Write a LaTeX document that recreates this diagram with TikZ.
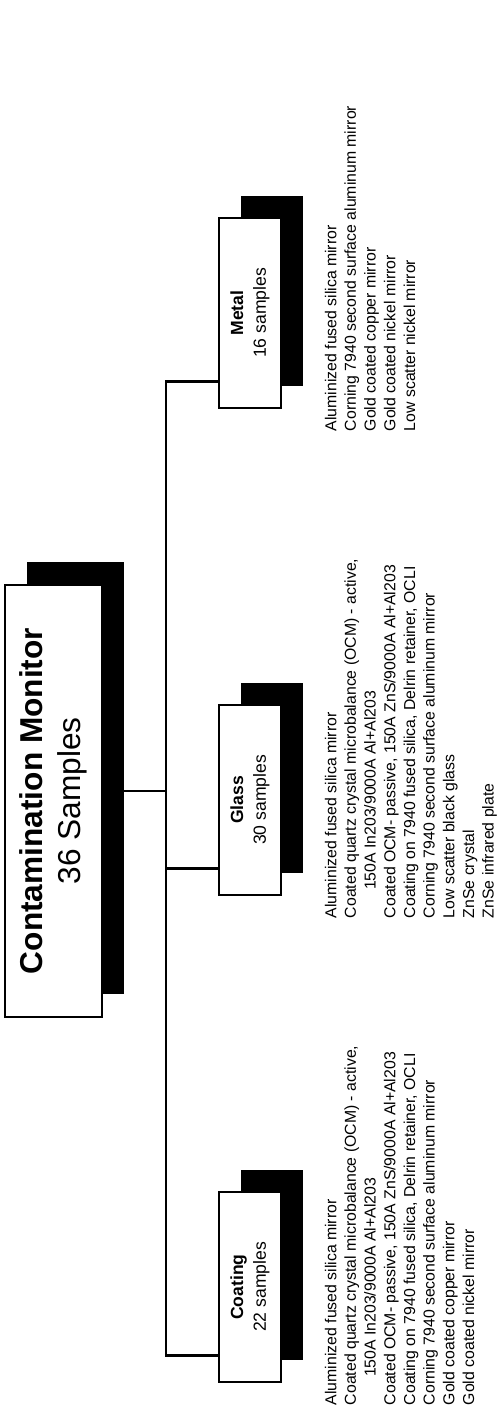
\documentclass[tikz,border=0pt]{standalone}
\usepackage{fontspec}
\setmainfont{Liberation Sans}
\usepackage{xcolor}
\usetikzlibrary{positioning,calc}
\definecolor{cInk}{HTML}{000000}
\definecolor{cPaper}{HTML}{FFFFFF}
\tikzset{
  rootBox/.style={draw=cInk, fill=cPaper, line width=1.1pt, inner sep=0pt,
                  minimum width=86.4mm, minimum height=19.4mm, align=center,
                  font=\fontsize{18}{21.6}\selectfont},
  rootShade/.style={fill=cInk, inner sep=0pt,
                    minimum width=86.4mm, minimum height=19.4mm},
  catBox/.style={draw=cInk, fill=cPaper, line width=1.1pt, inner sep=0pt,
                 minimum width=38mm, minimum height=12.4mm, align=center,
                 font=\fontsize{10}{13}\selectfont},
  catShade/.style={fill=cInk, inner sep=0pt,
                   minimum width=38mm, minimum height=12.4mm},
  wire/.style={draw=cInk, line width=1.6pt, line join=miter},
  itemList/.style={font=\fontsize{9}{11.2}\selectfont, align=left,
                   anchor=north west, inner sep=0pt},
}

\begin{document}
\begin{tikzpicture}
\useasboundingbox (0,0) rectangle (9.96,28.42);

% the whole chart is set sideways
\begin{scope}[rotate=90, transform shape]

% ========== ROOT ==========
\node[rootShade] (rootsh) at (12.85,-1.51) {};
\node[rootBox] (root) at (12.40,-1.07)
  {\textbf{Contamination Monitor}\\36 Samples};

% ========== CATEGORIES ==========
\foreach \nm/\u/\lbl/\cnt in {coat/2.68/Coating/22, glass/12.42/Glass/30,
                              metal/22.16/Metal/16} {
  \node[catShade] (\nm sh) at (\u+0.44,-5.44) {};
  \node[catBox] (\nm) at (\u,-5.0) {\textbf{\lbl}\\\cnt\ samples};
  \coordinate (\nm in) at ([xshift=5.5mm]\nm.north west);
}

% wiring
\coordinate (hub) at ([xshift=2mm,yshift=-12.6mm]root.south);
\draw[wire] (hub |- rootsh.south) -- (hub);
\draw[wire] (coatin) |- (hub) -| (metalin);
\draw[wire] (glassin) -- (glassin |- hub);

% ========== SAMPLE LISTS ==========
\node[itemList] (coatitems) at ([xshift=-4.5mm,yshift=-8.5mm]coat.south west)
  {Aluminized fused silica mirror\\
   Coated quartz crystal microbalance (OCM) - active,\\
   \hspace*{16pt}150A In203/9000A Al+Al203\\
   Coated OCM- passive, 150A ZnS/9000A Al+Al203\\
   Coating on 7940 fused silica, Delrin retainer, OCLI\\
   Corning 7940 second surface aluminum mirror\\
   Gold coated copper mirror\\
   Gold coated nickel mirror};

\node[itemList] (glassitems) at ([xshift=-4.5mm,yshift=-8.5mm]glass.south west)
  {Aluminized fused silica mirror\\
   Coated quartz crystal microbalance (OCM) - active,\\
   \hspace*{16pt}150A In203/9000A Al+Al203\\
   Coated OCM- passive, 150A ZnS/9000A Al+Al203\\
   Coating on 7940 fused silica, Delrin retainer, OCLI\\
   Corning 7940 second surface aluminum mirror\\
   Low scatter black glass\\
   ZnSe crystal\\
   ZnSe infrared plate};

\node[itemList] (metalitems) at ([xshift=-4.5mm,yshift=-8.5mm]metal.south west)
  {Aluminized fused silica mirror\\
   Corning 7940 second surface aluminum mirror\\
   Gold coated copper mirror\\
   Gold coated nickel mirror\\
   Low scatter nickel mirror};

\end{scope}
\end{tikzpicture}
\end{document}
